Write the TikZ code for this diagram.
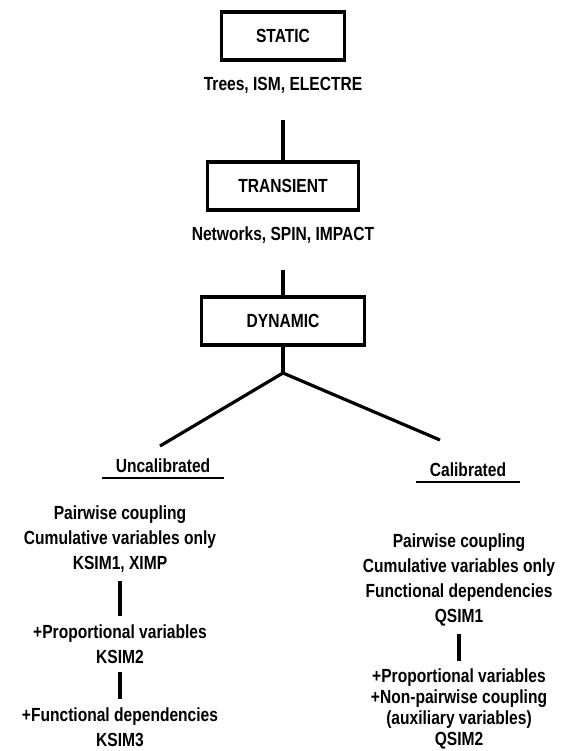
\documentclass[tikz,border=0pt]{standalone}
\usepackage{fontspec}
\setmainfont[FakeStretch=0.82]{Liberation Sans}
\usetikzlibrary{positioning}

\begin{document}
\begin{tikzpicture}[
x=1pt, y=-1pt,
font=\fontsize{19}{25}\selectfont\bfseries,
level/.style={rectangle, draw, line width=3.2pt, minimum height=48pt},
caption/.style={inner sep=0pt},
branch/.style={inner sep=2pt, minimum height=24pt},
entry/.style={align=center, inner sep=8pt},
link/.style={line width=3.2pt},
bar/.style={line width=4pt},
]
\useasboundingbox (0,0) rectangle (562,751);

\node at (283,36) [level, minimum width=123pt](static){STATIC};
\node at (283,85) [caption](trees){Trees, ISM, ELECTRE};
\node at (283,186) [level, minimum width=151pt](transient){TRANSIENT};
\node at (283,235) [caption](networks){Networks, SPIN, IMPACT};
\node at (283,321) [level, minimum width=163pt](dynamic){DYNAMIC};
\coordinate (treesend) at (283,120);
\coordinate (networksend) at (283,270);
\draw[link] (treesend) -- (transient.north);
\draw[link] (networksend) -- (dynamic.north);

\coordinate (fork) at (283,373);
\coordinate (uncalend) at (160,446);
\coordinate (calend) at (440,440);
\draw[link] (dynamic.south) -- (fork);
\draw[link] (uncalend) -- (fork) -- (calend);

\node at (163,466) [branch, minimum width=121pt](uncal){Uncalibrated};
\draw[line width=2pt] (uncal.south west) -- (uncal.south east);
\node at (468,470) [branch, minimum width=104pt](calib){Calibrated};
\draw[line width=2pt] (calib.south west) -- (calib.south east);

\node at (120,539) [entry](ksima){Pairwise coupling\\Cumulative variables only\\KSIM1, XIMP};
\node at (120,644) [entry](ksimb){+Proportional variables\\KSIM2};
\node at (120,727) [entry](ksimc){+Functional dependencies\\KSIM3};
\draw[bar] (ksima.south) -- (ksimb.north);
\draw[bar] (ksimb.south) -- (ksimc.north);

\node at (459,580) [entry](qsima){Pairwise coupling\\Cumulative variables only\\Functional dependencies\\QSIM1};
\node at (459,709) [entry, font=\fontsize{19}{21}\selectfont\bfseries](qsimb){+Proportional variables\\+Non-pairwise coupling\\(auxiliary variables)\\QSIM2};
\draw[bar] (qsima.south) -- (qsimb.north);

\end{tikzpicture}
\end{document}
